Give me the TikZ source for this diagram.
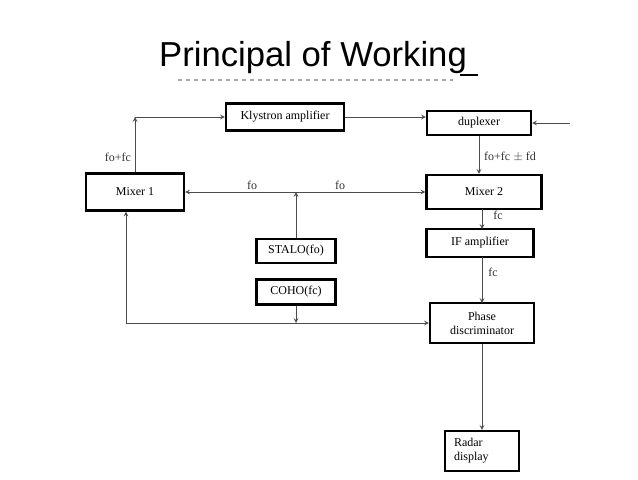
\documentclass[tikz,border=0pt]{standalone}
\usepackage{fontspec}
\setmainfont{Liberation Serif}
\newfontfamily\titlefont{Liberation Sans}
\usetikzlibrary{arrows, calc}

\begin{document}
\begin{tikzpicture}[x=0.75pt, y=-0.75pt, font=\fontsize{9}{10.5}\selectfont,
  blk/.style={draw, line width=1.6pt, rectangle, inner sep=1pt, align=center},
  wire/.style={draw=black!70, line width=0.6pt, ->, >=stealth},
  lbl/.style={text=black!80, inner sep=1pt}]
\useasboundingbox (0,0) rectangle (638,479);
\node (title) at (313,58) {\titlefont\fontsize{26}{30}\selectfont Principal of Working};
\draw[black!35, dashed, line width=1pt] (178,80) -- (453,80);
\draw[black, line width=1pt] (460,75) -- (478,75);
\node (mix1) at (135,192) [blk, minimum width=73.5pt, minimum height=27.75pt] {Mixer 1};
\node (kly) at (285,117) [blk, minimum width=88.5pt, minimum height=20.25pt] {Klystron amplifier};
\node (dup) at (479,123) [blk, minimum width=78pt, minimum height=18pt] {duplexer};
\node (mix2) at (484,192) [blk, minimum width=86.25pt, minimum height=25.5pt] {Mixer 2};
\node (stalo) at (296,251) [blk, minimum width=59.25pt, minimum height=18pt] {STALO(fo)};
\node (coho) at (296,292) [blk, minimum width=59.25pt, minimum height=18.75pt] {COHO(fc)};
\node (ifa) at (480,243) [blk, minimum width=80.25pt, minimum height=21pt] {IF amplifier};
\node (phd) at (482,323) [blk, minimum width=78pt, minimum height=30pt] {Phase\\discriminator};
\node (rad) at (482,451) [blk, minimum width=55.5pt, minimum height=30pt, text width=42pt, align=left] {Radar\\display};
\coordinate (ant) at (570,123);
\coordinate (lo) at (126,323);
% transmit side
\draw[wire] (mix1.north) -- (mix1.north |- kly.west);
\draw[wire] (mix1.north |- kly.west) -- (kly.west);
\draw[wire] (kly.east) -- (kly.east -| dup.west);
\draw[wire] (ant) -- (dup.east);
% receive side
\draw[wire] (dup.south) -- (dup.south |- mix2.north);
\draw[wire] (482,209) -- (482,229);
\draw[wire] (482,257) -- (482,303);
\draw[wire] (phd.south) -- (rad.north);
% oscillators
\draw[wire, <->] (mix1.east) -- (mix2.west);
\draw[wire] (stalo.north) -- (stalo.north |- mix2.west);
\draw[wire] (coho.south) -- (coho.south |- phd.west);
\draw[wire] (lo) -- (lo |- mix1.south);
\draw[wire] (lo) -- (phd.west);
\node (l1) at (118,157) [lbl] {fo+fc};
\node (l2) at (252,185) [lbl] {fo};
\node (l3) at (340,185) [lbl] {fo};
\node (l4) at (510,157) [lbl] {fo+fc $\pm$ fd};
\node (l5) at (498,215) [lbl] {fc};
\node (l6) at (493,272) [lbl] {fc};
\end{tikzpicture}
\end{document}
